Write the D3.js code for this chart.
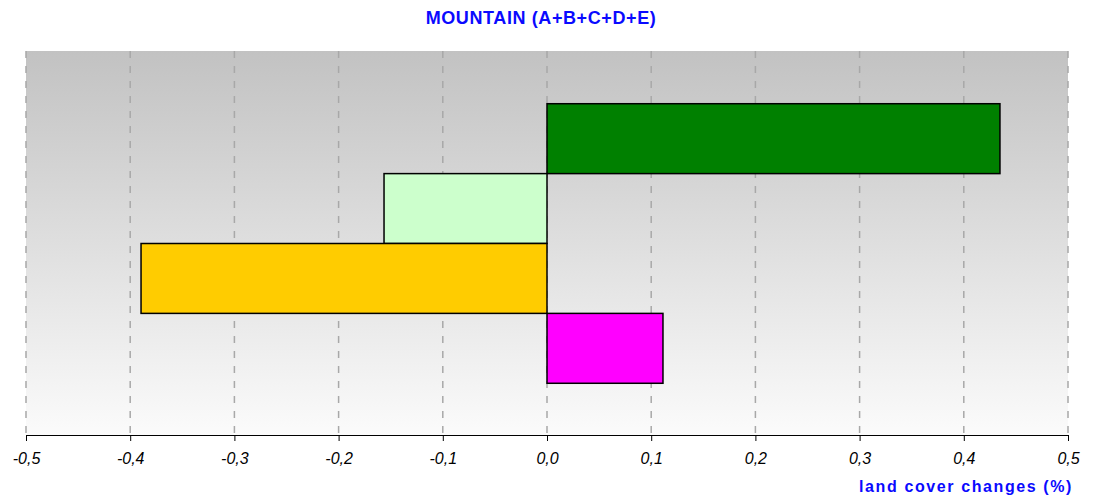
<!DOCTYPE html>
<html><head><meta charset="utf-8">
<script src="https://cdn.jsdelivr.net/npm/d3@7"></script>
<style>body{margin:0;background:#fff}svg{display:block}</style>
</head><body>
<svg id="c" width="1094" height="500"></svg>
<script>
const categories = ["cat1","cat2","cat3","cat4"];
const values = [0.4347, -0.1564, -0.3896, 0.1113];
const colors = ["#008000","#ccffcc","#ffcc00","#ff00ff"];
const tickValues = [-0.5,-0.4,-0.3,-0.2,-0.1,0,0.1,0.2,0.3,0.4,0.5];
const title = "MOUNTAIN (A+B+C+D+E)";
const xTitle = "land cover changes (%)";

const svg = d3.select("#c");
const L = 26, R = 1068, T = 51, B = 435;
const x = d3.scaleLinear().domain([-0.5,0.5]).range([L,R]);
const y = d3.scaleBand().domain(categories).range([T+1,B]).paddingOuter(0.74).paddingInner(0);

const defs = svg.append("defs");
const g = defs.append("linearGradient").attr("id","bg").attr("x1",0).attr("y1",0).attr("x2",0).attr("y2",1);
g.append("stop").attr("offset","0%").attr("stop-color","#c2c2c2");
g.append("stop").attr("offset","100%").attr("stop-color","#fbfbfb");

svg.append("rect").attr("x",L).attr("y",T).attr("width",R-L).attr("height",B-T).attr("fill","url(#bg)");

// grid
svg.append("g").selectAll("line").data(tickValues).join("line")
  .attr("x1",d=>x(d)).attr("x2",d=>x(d)).attr("y1",T).attr("y2",B)
  .attr("stroke","#a8a8a8").attr("stroke-width",1.5).attr("stroke-dasharray","7,8");

// bars
svg.append("g").selectAll("rect").data(values).join("rect")
  .attr("x",d=>x(Math.min(0,d))).attr("width",d=>Math.abs(x(d)-x(0)))
  .attr("y",(d,i)=>y(categories[i])).attr("height",y.bandwidth())
  .attr("fill",(d,i)=>colors[i]).attr("stroke","#000").attr("stroke-width",1.5);

// axis
const fmt = d => d3.format(".1f")(d).replace(".",",").replace("−","-");
const ax = svg.append("g").attr("transform",`translate(0,${B})`)
  .call(d3.axisBottom(x).tickValues(tickValues).tickSize(6).tickSizeOuter(0).tickFormat(fmt));
ax.select(".domain").attr("stroke","#000").attr("stroke-width",1.2);
ax.selectAll(".tick line").attr("stroke","#000");
ax.selectAll(".tick text").attr("font-family","Liberation Sans, Arial, sans-serif")
  .attr("font-style","italic").attr("font-size",16).attr("fill","#000").attr("y",18).attr("dy","0.71em");

svg.append("text").attr("x",541).attr("y",24).attr("text-anchor","middle")
  .attr("font-family","Liberation Sans, Arial, sans-serif").attr("font-weight","bold")
  .attr("font-size",18).attr("letter-spacing","0.6").attr("fill","#0a0aff").text(title);

svg.append("text").attr("x",1073).attr("y",492).attr("text-anchor","end")
  .attr("font-family","Liberation Sans, Arial, sans-serif").attr("font-weight","bold")
  .attr("font-size",16).attr("letter-spacing","1.6").attr("fill","#0a0aff").text(xTitle);
</script>
</body></html>
